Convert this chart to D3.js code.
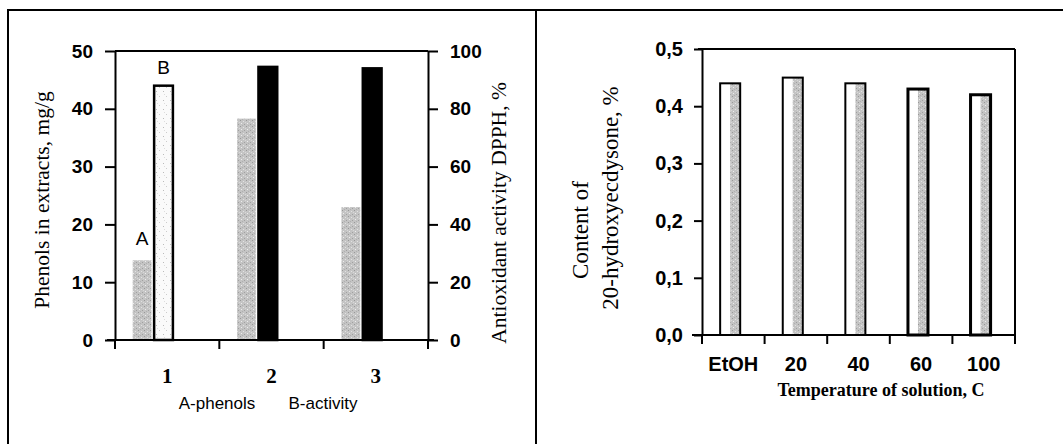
<!DOCTYPE html>
<html>
<head>
<meta charset="utf-8">
<script src="https://cdn.jsdelivr.net/npm/d3@7"></script>
<style>
  body { margin: 0; background: #fff; }
</style>
</head>
<body>
<svg id="chart"></svg>
<script>
// ===========================
// Data
// ===========================
const groups = ["1", "2", "3"];
const phenols = [13.8, 38.3, 23.0];     // A - phenols, mg/g (left axis)
const activity = [88, 94.5, 94];        // B - DPPH activity, % (right axis)
const phenolTicks = [0, 10, 20, 30, 40, 50];
const activityTicks = [0, 20, 40, 60, 80, 100];

const temps = ["EtOH", "20", "40", "60", "100"];
const ecdysone = [0.44, 0.45, 0.44, 0.43, 0.42];
const ecdysoneTicks = [0, 0.1, 0.2, 0.3, 0.4, 0.5];

// ===========================
// Layout
// ===========================
const W = 1063, H = 444;
const svg = d3.select("#chart").attr("width", W).attr("height", H);

const sans = "'Liberation Sans', Arial, sans-serif";
const serif = "'Liberation Serif', 'Times New Roman', serif";

// speckled gray fill
const defs = svg.append("defs");
const pat = defs.append("pattern")
  .attr("id", "speckle")
  .attr("width", 6).attr("height", 6)
  .attr("patternUnits", "userSpaceOnUse");
pat.append("rect").attr("width", 6).attr("height", 6).attr("fill", "#c4c4c4");
[[0, 0, "#999"], [3, 1, "#e2e2e2"], [1, 3, "#ededed"], [4, 4, "#a0a0a0"], [5, 2, "#d8d8d8"], [2, 5, "#b0b0b0"]]
  .forEach(([px, py, c]) => pat.append("rect").attr("x", px).attr("y", py).attr("width", 1).attr("height", 1).attr("fill", c));

const patLight = defs.append("pattern")
  .attr("id", "speckleLight")
  .attr("width", 7).attr("height", 9)
  .attr("patternUnits", "userSpaceOnUse");
patLight.append("rect").attr("width", 7).attr("height", 9).attr("fill", "#fafafa");
[[2, 1, "#bbb"], [5, 6, "#ccc"], [3, 4, "#ddd"]]
  .forEach(([px, py, c]) => patLight.append("rect").attr("x", px).attr("y", py).attr("width", 1).attr("height", 1).attr("fill", c));

// outer frame
svg.append("line").attr("x1", 8).attr("x2", W).attr("y1", 10).attr("y2", 10)
  .attr("stroke", "#000").attr("stroke-width", 2);
svg.append("line").attr("x1", 8).attr("x2", 8).attr("y1", 9).attr("y2", H)
  .attr("stroke", "#000").attr("stroke-width", 2);
svg.append("line").attr("x1", 536).attr("x2", 536).attr("y1", 9).attr("y2", H)
  .attr("stroke", "#000").attr("stroke-width", 2);

function styleAxis(g, font, size, weight) {
  g.selectAll("path, line").attr("stroke", "#000").attr("stroke-width", 2);
  g.selectAll("text")
    .attr("fill", "#000")
    .style("font-family", font)
    .style("font-size", size + "px")
    .style("font-weight", weight);
}

// ===========================
// Left chart: phenols & activity
// ===========================
const L = { x0: 115, x1: 428, y0: 51, y1: 340 };

const xL = d3.scaleBand().domain(groups).range([L.x0, L.x1]).padding(0);
const yP = d3.scaleLinear().domain([0, 50]).range([L.y1, L.y0]);
const yA = d3.scaleLinear().domain([0, 100]).range([L.y1, L.y0]);

const bw = xL.bandwidth();
const left = svg.append("g");

// plot frame top
left.append("line").attr("x1", L.x0).attr("x2", L.x1).attr("y1", L.y0).attr("y2", L.y0)
  .attr("stroke", "#000").attr("stroke-width", 2);

// A bars (phenols)
left.selectAll(".barA")
  .data(groups)
  .enter()
  .append("rect")
  .attr("class", "barA")
  .attr("x", d => xL(d) + bw * 0.17)
  .attr("y", (d, i) => yP(phenols[i]))
  .attr("width", bw * 0.18)
  .attr("height", (d, i) => L.y1 - yP(phenols[i]))
  .attr("fill", "url(#speckle)");

// B bars (activity)
left.selectAll(".barB")
  .data(groups)
  .enter()
  .append("rect")
  .attr("class", "barB")
  .attr("x", d => xL(d) + bw * 0.375)
  .attr("y", (d, i) => yA(activity[i]))
  .attr("width", bw * 0.18)
  .attr("height", (d, i) => L.y1 - yA(activity[i]))
  .attr("fill", (d, i) => i === 0 ? "url(#speckleLight)" : "#000")
  .attr("stroke", "#000")
  .attr("stroke-width", 2.5);

// series labels over the first group
left.append("text")
  .attr("x", xL(groups[0]) + bw * 0.26)
  .attr("y", yP(phenols[0]) - 15)
  .attr("text-anchor", "middle")
  .style("font-family", sans).style("font-size", "19px")
  .text("A");
left.append("text")
  .attr("x", xL(groups[0]) + bw * 0.465)
  .attr("y", yA(activity[0]) - 12)
  .attr("text-anchor", "middle")
  .style("font-family", sans).style("font-size", "19px")
  .text("B");

// left axis
const axP = left.append("g")
  .attr("transform", `translate(${L.x0},0)`)
  .call(d3.axisLeft(yP).tickValues(phenolTicks).tickSize(10).tickSizeOuter(0).tickPadding(12));
styleAxis(axP, sans, 19, "bold");

// right axis
const axA = left.append("g")
  .attr("transform", `translate(${L.x1},0)`)
  .call(d3.axisRight(yA).tickValues(activityTicks).tickSize(10).tickSizeOuter(0).tickPadding(12));
styleAxis(axA, sans, 19, "bold");

// bottom axis: tick marks at band edges, labels at centres
const axX = left.append("g")
  .attr("transform", `translate(0,${L.y1})`)
  .call(d3.axisBottom(xL).tickSize(0).tickSizeOuter(0).tickPadding(28));
styleAxis(axX, serif, 21, "bold");
axX.select(".domain").attr("d", `M${L.x0 - 8},0H${L.x1 + 6}`);
const edgesL = groups.map(d => xL(d)).concat([L.x1]);
axX.selectAll(".edge")
  .data(edgesL)
  .enter()
  .append("line")
  .attr("x1", d => d).attr("x2", d => d)
  .attr("y1", 0).attr("y2", 9)
  .attr("stroke", "#000").attr("stroke-width", 2);

// legend-like caption
left.append("text")
  .attr("x", 217).attr("y", 409)
  .attr("text-anchor", "middle")
  .style("font-family", sans).style("font-size", "17px")
  .text("A-phenols");
left.append("text")
  .attr("x", 323).attr("y", 409)
  .attr("text-anchor", "middle")
  .style("font-family", sans).style("font-size", "17px")
  .text("B-activity");

// axis titles
left.append("text")
  .attr("transform", "translate(42,200) rotate(-90)")
  .attr("text-anchor", "middle")
  .attr("dominant-baseline", "central")
  .style("font-family", serif).style("font-size", "21.5px")
  .text("Phenols in extracts, mg/g");
left.append("text")
  .attr("transform", "translate(499,213) rotate(-90)")
  .attr("text-anchor", "middle")
  .attr("dominant-baseline", "central")
  .style("font-family", serif).style("font-size", "21.5px")
  .text("Antioxidant activity DPPH, %");

// ===========================
// Right chart: 20-hydroxyecdysone
// ===========================
const R = { x0: 702, x1: 1015, y0: 49, y1: 335 };

const xR = d3.scaleBand().domain(temps).range([R.x0, R.x1]).padding(0);
const yE = d3.scaleLinear().domain([0, 0.5]).range([R.y1, R.y0]);
const bwR = xR.bandwidth();
const right = svg.append("g");

right.append("line").attr("x1", R.x0 - 4).attr("x2", R.x1).attr("y1", R.y0).attr("y2", R.y0)
  .attr("stroke", "#000").attr("stroke-width", 2);

const barsR = right.selectAll(".barE")
  .data(temps)
  .enter()
  .append("g")
  .attr("class", "barE");

barsR.append("rect")
  .attr("x", d => xR(d) + bwR * 0.29)
  .attr("y", (d, i) => yE(ecdysone[i]))
  .attr("width", bwR * 0.32)
  .attr("height", (d, i) => R.y1 - yE(ecdysone[i]))
  .attr("fill", "#fff");
barsR.append("rect")
  .attr("x", d => xR(d) + bwR * 0.45)
  .attr("y", (d, i) => yE(ecdysone[i]))
  .attr("width", bwR * 0.16)
  .attr("height", (d, i) => R.y1 - yE(ecdysone[i]))
  .attr("fill", "url(#speckle)");
barsR.append("rect")
  .attr("x", d => xR(d) + bwR * 0.29)
  .attr("y", (d, i) => yE(ecdysone[i]))
  .attr("width", bwR * 0.32)
  .attr("height", (d, i) => R.y1 - yE(ecdysone[i]))
  .attr("fill", "none")
  .attr("stroke", "#000")
  .attr("stroke-width", (d, i) => i >= 3 ? 3 : 2);

const fmtComma = d => d3.format(".1f")(d).replace(".", ",");
const axE = right.append("g")
  .attr("transform", `translate(${R.x0},0)`)
  .call(d3.axisLeft(yE).tickValues(ecdysoneTicks).tickFormat(fmtComma).tickSize(8).tickSizeOuter(0).tickPadding(11));
styleAxis(axE, sans, 20, "bold");

// right border of the plot
right.append("line").attr("x1", R.x1).attr("x2", R.x1).attr("y1", R.y0).attr("y2", R.y1)
  .attr("stroke", "#000").attr("stroke-width", 2);

const axT = right.append("g")
  .attr("transform", `translate(0,${R.y1})`)
  .call(d3.axisBottom(xR).tickSize(0).tickSizeOuter(0).tickPadding(22));
styleAxis(axT, sans, 20, "bold");
axT.select(".domain").attr("d", `M${R.x0 - 10},0H${R.x1}`);
const edgesR = temps.map(d => xR(d)).concat([R.x1]);
axT.selectAll(".edge")
  .data(edgesR)
  .enter()
  .append("line")
  .attr("x1", d => d).attr("x2", d => d)
  .attr("y1", 0).attr("y2", 9)
  .attr("stroke", "#000").attr("stroke-width", 2);

right.append("text")
  .attr("x", 881).attr("y", 396)
  .attr("text-anchor", "middle")
  .style("font-family", serif).style("font-size", "18px").style("font-weight", "bold")
  .text("Temperature of solution, C");

right.append("text")
  .attr("transform", "translate(580,230) rotate(-90)")
  .attr("text-anchor", "middle")
  .attr("dominant-baseline", "central")
  .style("font-family", serif).style("font-size", "23px")
  .text("Content of");
right.append("text")
  .attr("transform", "translate(610,198) rotate(-90)")
  .attr("text-anchor", "middle")
  .attr("dominant-baseline", "central")
  .style("font-family", serif).style("font-size", "23px")
  .text("20-hydroxyecdysone, %");
</script>
</body>
</html>
